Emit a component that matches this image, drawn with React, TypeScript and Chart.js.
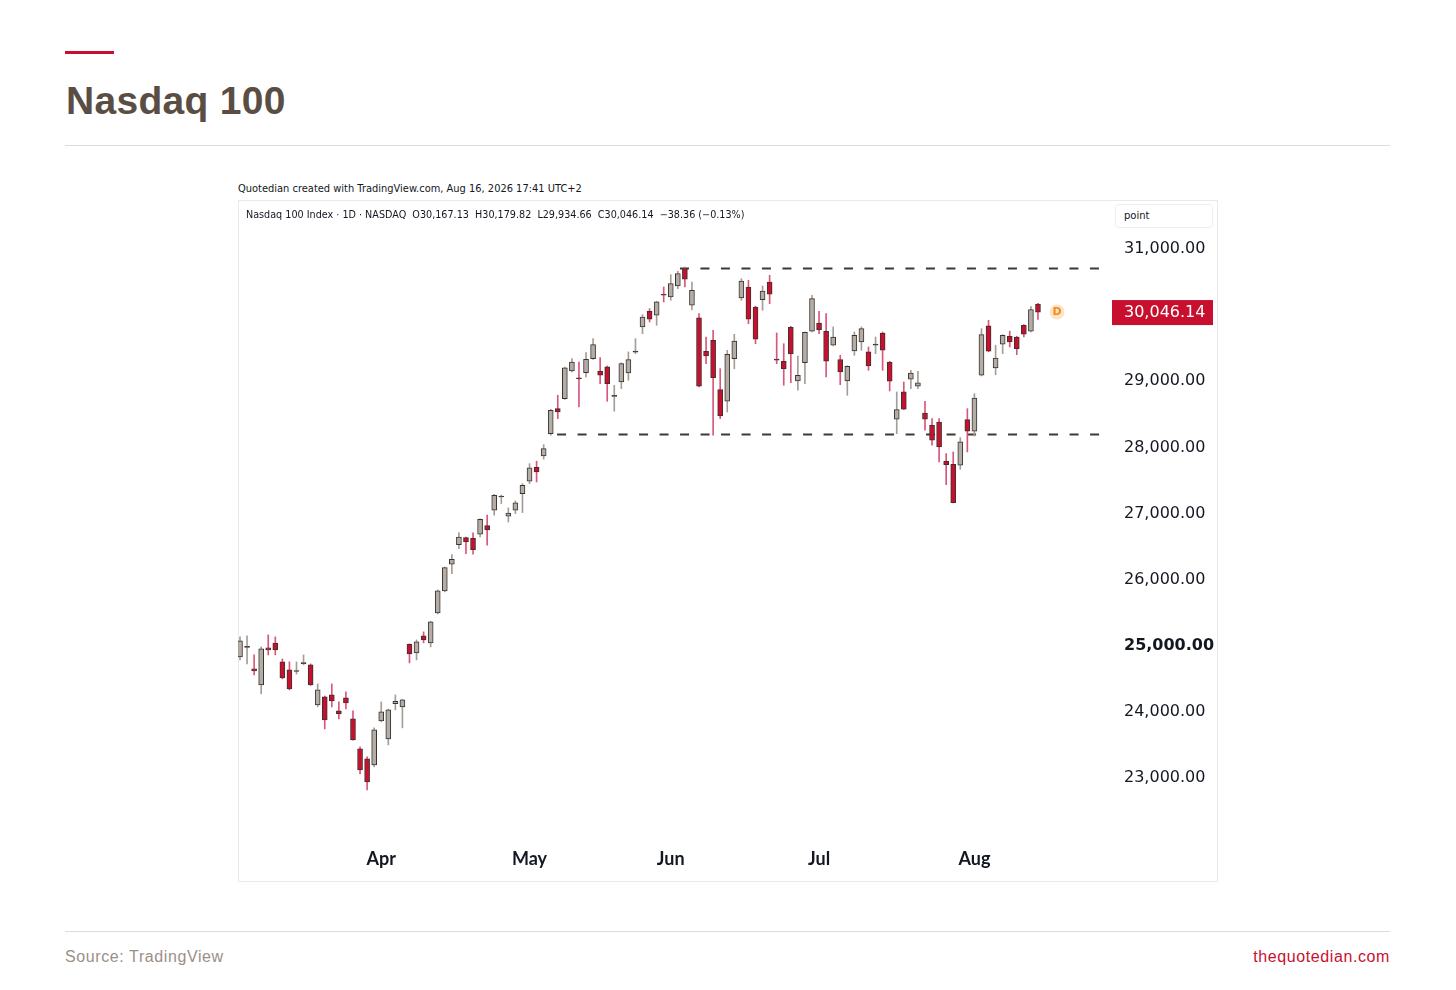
import React, { useEffect, useRef } from "react";
import { Chart, registerables } from "chart.js";

Chart.register(...registerables);

// ---------- data ----------
const dates = [
  "2026-03-04","2026-03-05","2026-03-06","2026-03-09","2026-03-10","2026-03-11","2026-03-12","2026-03-13",
  "2026-03-16","2026-03-17","2026-03-18","2026-03-19","2026-03-20","2026-03-23","2026-03-24","2026-03-25",
  "2026-03-26","2026-03-27","2026-03-30","2026-03-31",
  "2026-04-01","2026-04-02","2026-04-06","2026-04-07","2026-04-08","2026-04-09","2026-04-10","2026-04-13",
  "2026-04-14","2026-04-15","2026-04-16","2026-04-17","2026-04-20","2026-04-21","2026-04-22","2026-04-23",
  "2026-04-24","2026-04-27","2026-04-28","2026-04-29","2026-04-30",
  "2026-05-01","2026-05-04","2026-05-05","2026-05-06","2026-05-07","2026-05-08","2026-05-11","2026-05-12",
  "2026-05-13","2026-05-14","2026-05-15","2026-05-18","2026-05-19","2026-05-20","2026-05-21","2026-05-22",
  "2026-05-26","2026-05-27","2026-05-28","2026-05-29",
  "2026-06-01","2026-06-02","2026-06-03","2026-06-04","2026-06-05","2026-06-08","2026-06-09","2026-06-10",
  "2026-06-11","2026-06-12","2026-06-15","2026-06-16","2026-06-17","2026-06-18","2026-06-22","2026-06-23",
  "2026-06-24","2026-06-25","2026-06-26","2026-06-29","2026-06-30",
  "2026-07-01","2026-07-02","2026-07-06","2026-07-07","2026-07-08","2026-07-09","2026-07-10","2026-07-13",
  "2026-07-14","2026-07-15","2026-07-16","2026-07-17","2026-07-20","2026-07-21","2026-07-22","2026-07-23",
  "2026-07-24","2026-07-27","2026-07-28","2026-07-29","2026-07-30","2026-07-31",
  "2026-08-03","2026-08-04","2026-08-05","2026-08-06","2026-08-07","2026-08-10","2026-08-11","2026-08-12",
  "2026-08-13","2026-08-14",
];

const opens = [
  24831, 24975, 24650, 24408, 24967, 25040, 24756, 24635, 24610, 24730,
  24710, 24105, 24226, 24256, 24015, 24211, 23894, 23440, 23289, 23198,
  23863, 23591, 24125, 24075, 25020, 24892, 25149, 25043, 25496, 25829,
  26233, 26529, 26635, 26626, 26686, 26816, 27049, 27250, 26959, 27049,
  27300, 27488, 27699, 27870, 28207, 28585, 28737, 29155, 29050, 29130,
  29341, 29155, 29216, 28770, 28989, 29125, 29440, 29821, 30058, 29998,
  30315, 30274, 30441, 30702, 30149, 29957, 29453, 29620, 28873, 28697,
  29341, 30259, 30425, 30123, 30233, 30501, 29335, 29302, 29816, 29004,
  29281, 29756, 29881, 29756, 29544, 29326, 29004, 29458, 29594, 29443,
  29545, 29730, 29291, 28425, 28838, 29030, 28924, 28520, 28334, 28384,
  27790, 27745, 27729, 28419, 28244, 29090, 29836, 29201, 29559, 29680,
  29669, 29846, 29756, 30167.13,
];
const highs = [
  25134, 25149, 24861, 24982, 25164, 25134, 24801, 24756, 24756, 24861,
  24725, 24423, 24240, 24423, 24151, 24302, 24015, 23470, 23319, 23758,
  24151, 24040, 24256, 24190, 25030, 25088, 25209, 25370, 25845, 26190,
  26378, 26710, 26645, 26706, 26920, 26974, 27290, 27280, 27084, 27190,
  27451, 27754, 27790, 28041, 28575, 28788, 29215, 29341, 29291, 29432,
  29644, 29356, 29230, 28939, 29280, 29443, 29644, 30007, 30097, 30210,
  30425, 30611, 30663, 30728, 30501, 30022, 29669, 29771, 29190, 29468,
  29710, 30551, 30527, 30135, 30441, 30602, 29730, 29568, 29830, 29382,
  29745, 30300, 30058, 30022, 29821, 29393, 29235, 29745, 29821, 29518,
  29669, 29745, 29300, 28838, 28989, 29166, 29151, 28697, 28434, 28434,
  27905, 27931, 28147, 28585, 28812, 29795, 29922, 29544, 29705, 29756,
  29680, 29855, 30130, 30179.82,
];
const lows = [
  24786, 24725, 24559, 24272, 24861, 24861, 24499, 24332, 24570, 24710,
  24400, 24075, 23742, 24075, 23894, 24045, 23570, 23062, 22820, 23168,
  23848, 23500, 24030, 23758, 24740, 24786, 25043, 24982, 25480, 25815,
  26091, 26469, 26393, 26384, 26645, 26520, 26974, 27150, 26872, 26998,
  27013, 27451, 27477, 27820, 28183, 28434, 28725, 29140, 28611, 29065,
  29330, 28963, 28697, 28546, 28888, 29015, 29417, 29719, 29896, 29846,
  30199, 30224, 30400, 30425, 30078, 28915, 29266, 28183, 28434, 28535,
  29190, 30224, 29871, 29568, 30073, 30173, 29266, 28939, 28978, 28864,
  28963, 29745, 29719, 29065, 29535, 28948, 28788, 29393, 29468, 29166,
  29417, 29166, 28853, 28207, 28570, 28888, 28888, 28259, 28032, 27780,
  27436, 27160, 27669, 27931, 28172, 29080, 29445, 29099, 29417, 29518,
  29402, 29669, 29745, 29934.66,
];
const closes = [
  25073, 24990, 24620, 24952, 24937, 24937, 24514, 24347, 24625, 24745,
  24408, 24332, 23878, 24166, 23969, 24136, 23576, 23122, 22941, 23727,
  23999, 24030, 24160, 24181, 24876, 25058, 25088, 25360, 25829, 26181,
  26308, 26645, 26570, 26453, 26913, 26751, 27276, 27265, 27008, 27160,
  27427, 27689, 27628, 27981, 28561, 28535, 29201, 29291, 29035, 29332,
  29553, 29090, 28963, 28785, 29266, 29326, 29455, 29972, 29937, 30199,
  30300, 30475, 30627, 30542, 30376, 28924, 29382, 29054, 28475, 29408,
  29609, 30516, 29937, 29635, 30365, 30315, 29320, 29190, 29412, 29090,
  29740, 30249, 29780, 29302, 29669, 29140, 29226, 29695, 29795, 29231,
  29560, 29468, 29000, 28570, 28576, 29125, 28974, 28425, 28108, 28006,
  27739, 27164, 28082, 28244, 28747, 29704, 29453, 29352, 29695, 29594,
  29493, 29710, 30084.5, 30046.14,
];

const priceTicks = [23000, 24000, 25000, 26000, 27000, 28000, 29000, 30000, 31000];
const boldPriceTick = 25000;
const monthNames = ["Jan","Feb","Mar","Apr","May","Jun","Jul","Aug","Sep","Oct","Nov","Dec"];

// horizontal dashed levels (level in points, from/to in bar index units)
const resistanceLine = { level: 30705, from: 62.3, to: 122.5 };
const supportLine = { level: 28195, from: 44.9, to: 121.8 };

const legendText =
  "Nasdaq 100 Index \u00b7 1D \u00b7 NASDAQ\u00a0 O30,167.13\u00a0 H30,179.82\u00a0 L29,934.66\u00a0 C30,046.14\u00a0 \u221238.36 (\u22120.13%)";

// ---------- styles ----------
const UP_FILL = "#b4ada5";
const DOWN_FILL = "#c8102e";
const BODY_BORDER = "#3b3330";
const UP_WICK = "#a49e98";
const DOWN_WICK = "#d9577a";
const RED = "#c8102e";

const X_MIN = -0.283;
const X_MAX = 123.2;
const Y_MIN = 22213.4;
const Y_MAX = 31438.3;

function fmt(v: number) {
  return v.toLocaleString("en-US", { minimumFractionDigits: 2, maximumFractionDigits: 2 });
}

function CandleChart() {
  const ref = useRef<HTMLCanvasElement | null>(null);

  useEffect(() => {
    if (!ref.current) return;
    const n = closes.length;
    const idx = closes.map((_, i) => i);
    const isUp = idx.map((i) => closes[i] >= opens[i]);
    const isDoji = idx.map((i) => Math.abs(closes[i] - opens[i]) <= 20);

    const monthStarts: number[] = [];
    for (let i = 1; i < n; i++) {
      if (dates[i].slice(5, 7) !== dates[i - 1].slice(5, 7)) monthStarts.push(i);
    }
    const monthLabel = (i: number) => monthNames[parseInt(dates[i].slice(5, 7), 10) - 1];

    const lastPricePlugin = {
      id: "lastPrice",
      afterDatasetsDraw(chart: any) {
        const { ctx, chartArea, scales } = chart;
        const last = closes[n - 1];
        const y = scales.y.getPixelForValue(last);
        const bx = scales.x.getPixelForValue(n - 1 + 2.7);
        ctx.save();
        // "D" badge
        ctx.beginPath();
        ctx.arc(bx, y, 7.5, 0, Math.PI * 2);
        ctx.fillStyle = "#fde4c6";
        ctx.fill();
        ctx.fillStyle = "#f08c1a";
        ctx.font = 'bold 11px "DejaVu Sans"';
        ctx.textAlign = "center";
        ctx.textBaseline = "middle";
        ctx.fillText("D", bx, y + 0.5);
        // price box
        const left = chartArea.right + 2;
        const right = chart.width - 4;
        ctx.fillStyle = RED;
        ctx.fillRect(left, y - 12, right - left, 25);
        ctx.fillStyle = "#ffffff";
        ctx.font = '16px "DejaVu Sans"';
        ctx.textAlign = "left";
        ctx.fillText(fmt(last), chartArea.right + 14, y + 1);
        ctx.restore();
      },
    };

    const chart = new Chart(ref.current, {
      type: "bar",
      data: {
        datasets: [
          {
            type: "line",
            data: [
              { x: resistanceLine.from, y: resistanceLine.level },
              { x: resistanceLine.to, y: resistanceLine.level },
            ],
            borderColor: "#3f3833",
            borderWidth: 2,
            borderDash: [9, 11.5],
            pointRadius: 0,
            order: 3,
          } as any,
          {
            type: "line",
            data: [
              { x: supportLine.from, y: supportLine.level },
              { x: supportLine.to, y: supportLine.level },
            ],
            borderColor: "#3f3833",
            borderWidth: 2,
            borderDash: [9, 11.5],
            pointRadius: 0,
            order: 3,
          } as any,
          {
            type: "bar",
            data: idx.map((i) => ({ x: i, y: [lows[i], highs[i]] })),
            backgroundColor: idx.map((i) => (isUp[i] ? UP_WICK : DOWN_WICK)),
            borderWidth: 0,
            barThickness: 1,
            grouped: false,
            order: 2,
          } as any,
          {
            type: "bar",
            data: idx.map((i) => ({ x: i, y: [opens[i], closes[i]] })),
            backgroundColor: idx.map((i) =>
              isDoji[i] ? BODY_BORDER : isUp[i] ? UP_FILL : DOWN_FILL
            ),
            borderColor: BODY_BORDER,
            borderWidth: 1,
            borderSkipped: false,
            barThickness: 5,
            grouped: false,
            order: 1,
          } as any,
        ],
      },
      options: {
        responsive: false,
        animation: false,
        layout: { padding: { top: 20, left: 0, right: 0, bottom: 0 } },
        plugins: { legend: { display: false }, tooltip: { enabled: false } },
        scales: {
          x: {
            type: "linear",
            min: X_MIN,
            max: X_MAX,
            offset: false,
            grid: { display: false },
            border: { display: false },
            afterFit: (s: any) => {
              s.height = 51;
            },
            afterBuildTicks: (s: any) => {
              s.ticks = monthStarts.map((v) => ({ value: v }));
            },
            ticks: {
              autoSkip: false,
              maxRotation: 0,
              padding: 10,
              color: "#131722",
              font: { family: "Lato", size: 18, weight: "bold" },
              callback: (v: any) => monthLabel(Number(v)),
            },
          },
          y: {
            type: "linear",
            position: "right",
            min: Y_MIN,
            max: Y_MAX,
            grid: { display: false },
            border: { display: false },
            afterFit: (s: any) => {
              s.width = 107;
            },
            afterBuildTicks: (s: any) => {
              s.ticks = priceTicks.map((v) => ({ value: v }));
            },
            ticks: {
              padding: 6,
              color: "#131722",
              font: (c: any) => ({
                family: "DejaVu Sans",
                size: 16,
                weight: c.tick && c.tick.value === boldPriceTick ? "bold" : "normal",
              }),
              callback: (v: any) => fmt(Number(v)),
            },
          },
        },
      } as any,
      plugins: [lastPricePlugin],
    });
    return () => chart.destroy();
  }, []);

  return (
    <canvas
      ref={ref}
      width={979}
      height={681}
      style={{ position: "absolute", left: 238, top: 200, width: 979, height: 681 }}
    />
  );
}

export default function App() {
  const abs: React.CSSProperties = { position: "absolute" };
  return (
    <div style={{ position: "absolute", left: 0, top: 0, width: 1456, height: 990, background: "#fff", overflow: "hidden" }}>
      <div style={{ ...abs, left: 65, top: 51, width: 49, height: 3, background: RED }} />
      <div
        style={{
          ...abs,
          left: 66,
          top: 81,
          fontFamily: '"Liberation Sans", Arial, sans-serif',
          fontWeight: "bold",
          fontSize: 39,
          lineHeight: "39px",
          color: "#5a4e44",
          letterSpacing: 0.3,
          whiteSpace: "nowrap",
        }}
      >
        Nasdaq 100
      </div>
      <div style={{ ...abs, left: 65, top: 145, width: 1325, height: 1, background: "#dcdcdc" }} />

      <div
        style={{
          ...abs,
          left: 238,
          top: 182,
          fontFamily: '"DejaVu Sans", sans-serif',
          fontSize: 9.9,
          lineHeight: "14px",
          color: "#131722",
          whiteSpace: "nowrap",
        }}
      >
        Quotedian created with TradingView.com, Aug 16, 2026 17:41 UTC+2
      </div>

      <div
        style={{
          ...abs,
          left: 238,
          top: 200,
          width: 980,
          height: 682,
          border: "1px solid #e9e9e9",
          boxSizing: "border-box",
        }}
      />
      <CandleChart />

      <div
        style={{
          ...abs,
          left: 246,
          top: 208,
          fontFamily: '"DejaVu Sans", sans-serif',
          fontSize: 9.65,
          lineHeight: "14px",
          color: "#131722",
          whiteSpace: "nowrap",
        }}
      >
        {legendText}
      </div>

      <div
        style={{
          ...abs,
          left: 1115,
          top: 204,
          width: 98,
          height: 24,
          border: "1px solid #eeeeee",
          borderRadius: 4,
          boxSizing: "border-box",
          background: "#fff",
        }}
      />
      <div
        style={{
          ...abs,
          left: 1124,
          top: 209,
          fontFamily: '"DejaVu Sans", sans-serif',
          fontSize: 10,
          lineHeight: "13px",
          color: "#131722",
        }}
      >
        point
      </div>

      <div style={{ ...abs, left: 65, top: 931, width: 1325, height: 1, background: "#dcdcdc" }} />
      <div
        style={{
          ...abs,
          left: 65,
          top: 947,
          fontFamily: '"Liberation Sans", Arial, sans-serif',
          fontSize: 16,
          lineHeight: "20px",
          letterSpacing: 0.6,
          color: "#9b8f86",
          whiteSpace: "nowrap",
        }}
      >
        Source: TradingView
      </div>
      <div
        style={{
          ...abs,
          right: 1456 - 1390,
          top: 947,
          fontFamily: '"Liberation Sans", Arial, sans-serif',
          fontSize: 16,
          lineHeight: "20px",
          letterSpacing: 0.6,
          color: RED,
          whiteSpace: "nowrap",
        }}
      >
        thequotedian.com
      </div>
    </div>
  );
}
